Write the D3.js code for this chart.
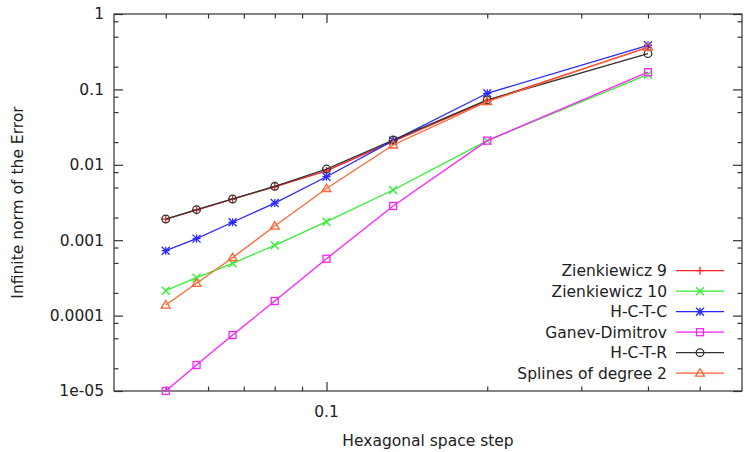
<!DOCTYPE html>
<html lang="en">
<head>
<meta charset="utf-8">
<title>Error vs space step</title>
<script type="text/javascript" src="https://d3js.org/d3.v7.min.js"></script>
<style type="text/css">
  body { margin: 0; background: #fff; }
  svg text { font-family: "DejaVu Sans", sans-serif; fill: #222; }
  .frame { fill: none; stroke: #333; stroke-width: 1.2; }
  .tick line { stroke: #333; stroke-width: 1.2; }
  .series path.line { fill: none; stroke-width: 1.3; }
</style>
</head>
<body>
<script type="text/javascript">
// hexagonal space step h = 1/(2.5 k), k = 8..1
var steps = [0.05, 0.0571, 0.0667, 0.08, 0.1, 0.1333, 0.2, 0.4];

var zienk9   = [0.0019, 0.0025, 0.0035, 0.0051, 0.0083, 0.0205, 0.071, 0.36];
var zienk10  = [0.000214, 0.000318, 0.000494, 0.000855, 0.00176, 0.00463, 0.0209, 0.158];
var hctc     = [0.000726, 0.00105, 0.00173, 0.00311, 0.00695, 0.0209, 0.0888, 0.385];
var ganev    = [0.00001, 0.0000221, 0.0000553, 0.000156, 0.000567, 0.00284, 0.0209, 0.169];
var hctr     = [0.00191, 0.00254, 0.00352, 0.00519, 0.00879, 0.0213, 0.0724, 0.298];
var splines2 = [0.000138, 0.000268, 0.000586, 0.00154, 0.00485, 0.0183, 0.0687, 0.365];

var seriesNames  = ["Zienkiewicz 9", "Zienkiewicz 10", "H-C-T-C", "Ganev-Dimitrov", "H-C-T-R", "Splines of degree 2"];
var seriesColors = ["#ff2020", "#33ee33", "#2a2aff", "#ff22ff", "#333333", "#ff6633"];
var seriesShapes = ["plus", "cross", "star", "square", "circle", "triangle"];
var seriesValues = [zienk9, zienk10, hctc, ganev, hctr, splines2];

var yTickValues = [1, 0.1, 0.01, 0.001, 0.0001, 0.00001];
var yTickLabels = ["1", "0.1", "0.01", "0.001", "0.0001", "1e-05"];
var xTickValues = [0.1];
var xTickLabels = ["0.1"];

var w = 744, h = 452;
var plotL = 114, plotR = 742, plotT = 14, plotB = 391;
var fs = "15.5px";

var svg = d3.select("body").append("svg")
    .attr("width", w)
    .attr("height", h);

var xScale = d3.scaleLog().domain([0.04, 0.6]).range([plotL, plotR]);
var yScale = d3.scaleLog().domain([0.00001, 1]).range([plotB, plotT]);

// minor ticks
var xMinor = [0.05, 0.06, 0.07, 0.08, 0.09, 0.2, 0.3, 0.4, 0.5];
var yMinor = [];
yTickValues.forEach(function(v) {
    if (v < 1) {
        [2, 5, 8].forEach(function(m) { yMinor.push(v * m); });
    }
});

function addTicks(axisFn, scale, values, size, pos) {
    var a = axisFn(scale).tickValues(values).tickSizeInner(size).tickSizeOuter(0).tickFormat("");
    var g = svg.append("g").attr("transform", pos).call(a);
    g.select(".domain").remove();
    return g;
}

// bottom / top
addTicks(d3.axisTop, xScale, xMinor, 4.5, "translate(0," + plotB + ")");
addTicks(d3.axisTop, xScale, xTickValues, 9, "translate(0," + plotB + ")");
addTicks(d3.axisBottom, xScale, xMinor, 4.5, "translate(0," + plotT + ")");
addTicks(d3.axisBottom, xScale, xTickValues, 9, "translate(0," + plotT + ")");
// left / right
addTicks(d3.axisRight, yScale, yMinor, 4.5, "translate(" + plotL + ",0)");
addTicks(d3.axisRight, yScale, yTickValues, 9, "translate(" + plotL + ",0)");
addTicks(d3.axisLeft, yScale, yMinor, 4.5, "translate(" + plotR + ",0)");
addTicks(d3.axisLeft, yScale, yTickValues, 9, "translate(" + plotR + ",0)");

// tick labels
svg.selectAll(".ylab")
    .data(yTickValues)
    .enter().append("text")
    .attr("class", "ylab")
    .attr("x", 104)
    .attr("y", function(d) { return yScale(d); })
    .attr("dy", "0.35em")
    .style("text-anchor", "end")
    .style("font-size", fs)
    .text(function(d, i) { return yTickLabels[i]; });

svg.selectAll(".xlab")
    .data(xTickValues)
    .enter().append("text")
    .attr("class", "xlab")
    .attr("x", function(d) { return xScale(d); })
    .attr("y", 417)
    .style("text-anchor", "middle")
    .style("font-size", fs)
    .text(function(d, i) { return xTickLabels[i]; });

// frame
svg.append("rect")
    .attr("class", "frame")
    .attr("x", plotL).attr("y", plotT)
    .attr("width", plotR - plotL).attr("height", plotB - plotT);

// axis titles
svg.append("text")
    .attr("x", (plotL + plotR) / 2)
    .attr("y", 446)
    .style("text-anchor", "middle")
    .style("font-size", fs)
    .text("Hexagonal space step");

svg.append("text")
    .attr("transform", "translate(23," + ((plotT + plotB) / 2) + ") rotate(-90)")
    .style("text-anchor", "middle")
    .style("font-size", fs)
    .text("Infinite norm of the Error");

// marker drawing
function drawMarker(g, shape, color, x, y) {
    var s = 4;
    if (shape === "plus") {
        g.append("path").attr("d", "M" + (x - s) + "," + y + "H" + (x + s) + "M" + x + "," + (y - s) + "V" + (y + s))
            .attr("stroke", color).attr("stroke-width", 1.3).attr("fill", "none");
    } else if (shape === "cross") {
        g.append("path").attr("d", "M" + (x - s) + "," + (y - s) + "L" + (x + s) + "," + (y + s) + "M" + (x - s) + "," + (y + s) + "L" + (x + s) + "," + (y - s))
            .attr("stroke", color).attr("stroke-width", 1.3).attr("fill", "none");
    } else if (shape === "star") {
        g.append("path").attr("d", "M" + (x - s) + "," + y + "H" + (x + s) + "M" + x + "," + (y - s) + "V" + (y + s) +
                "M" + (x - s) + "," + (y - s) + "L" + (x + s) + "," + (y + s) + "M" + (x - s) + "," + (y + s) + "L" + (x + s) + "," + (y - s))
            .attr("stroke", color).attr("stroke-width", 1.3).attr("fill", "none");
    } else if (shape === "square") {
        g.append("rect").attr("x", x - 3.5).attr("y", y - 3.5).attr("width", 7).attr("height", 7)
            .attr("stroke", color).attr("stroke-width", 1.3).attr("fill", "none");
    } else if (shape === "circle") {
        g.append("circle").attr("cx", x).attr("cy", y).attr("r", 3.8)
            .attr("stroke", color).attr("stroke-width", 1.3).attr("fill", "none");
    } else if (shape === "triangle") {
        g.append("path").attr("d", "M" + x + "," + (y - 4.5) + "L" + (x + 4.5) + "," + (y + 3) + "L" + (x - 4.5) + "," + (y + 3) + "Z")
            .attr("stroke", color).attr("stroke-width", 1.3).attr("fill", "none");
    }
}

var line = d3.line()
    .x(function(d) { return xScale(d[0]); })
    .y(function(d) { return yScale(d[1]); });

seriesValues.forEach(function(vals, si) {
    var pts = steps.map(function(x, i) { return [x, vals[i]]; });
    var g = svg.append("g").attr("class", "series");
    g.append("path")
        .datum(pts)
        .attr("class", "line")
        .attr("stroke", seriesColors[si])
        .attr("d", line);
    pts.forEach(function(p) {
        drawMarker(g, seriesShapes[si], seriesColors[si], xScale(p[0]), yScale(p[1]));
    });
});

// legend
var legY0 = 270.7, legDy = 20.5;
seriesNames.forEach(function(name, i) {
    var y = legY0 + i * legDy;
    svg.append("text")
        .attr("x", 667)
        .attr("y", y)
        .attr("dy", "0.35em")
        .style("text-anchor", "end")
        .style("font-size", fs)
        .text(name);
    svg.append("line")
        .attr("x1", 676).attr("x2", 724)
        .attr("y1", y).attr("y2", y)
        .attr("stroke", seriesColors[i])
        .attr("stroke-width", 1.3);
    drawMarker(svg, seriesShapes[i], seriesColors[i], 700, y);
});
</script>
</body>
</html>
